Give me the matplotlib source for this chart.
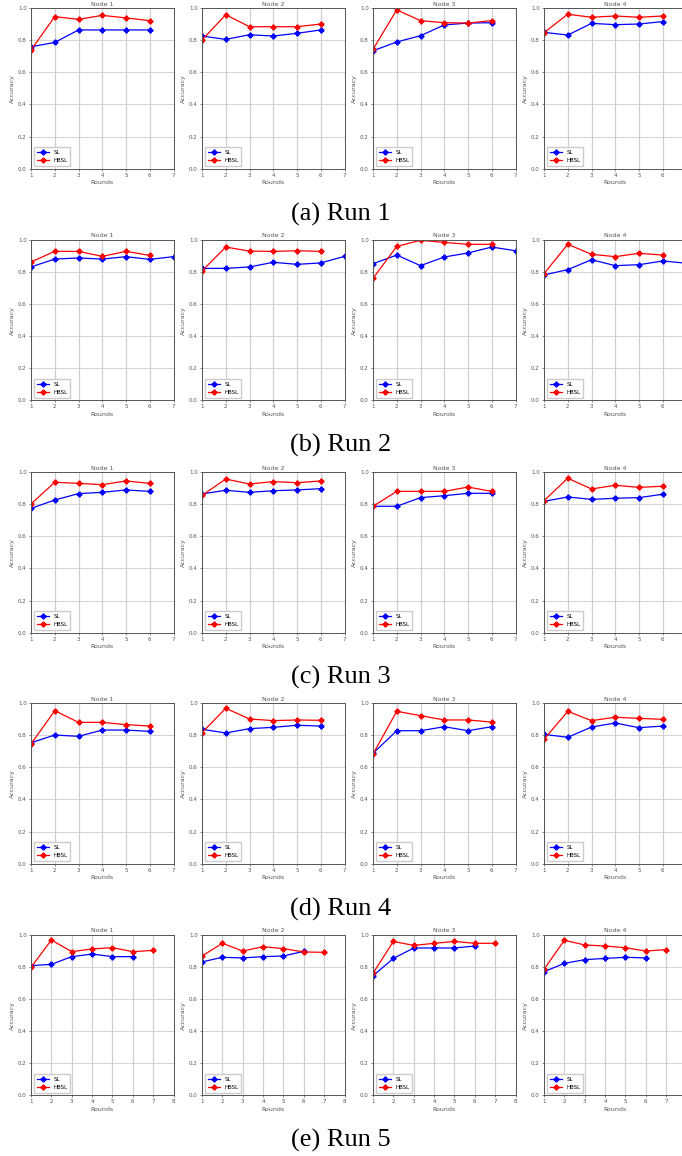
import matplotlib.pyplot as plt
import numpy as np

# accuracy per round, [run][node]
sl = [
    [[0.76, 0.787, 0.865, 0.865, 0.865, 0.865],
     [0.827, 0.806, 0.835, 0.827, 0.844, 0.865],
     [0.735, 0.79, 0.829, 0.896, 0.908, 0.91],
     [0.85, 0.833, 0.906, 0.898, 0.902, 0.917]],
    [[0.832, 0.881, 0.888, 0.881, 0.896, 0.879, 0.896],
     [0.823, 0.823, 0.832, 0.861, 0.848, 0.857, 0.898],
     [0.852, 0.906, 0.84, 0.894, 0.919, 0.956, 0.933],
     [0.782, 0.815, 0.877, 0.84, 0.846, 0.869, 0.855]],
    [[0.775, 0.827, 0.867, 0.875, 0.89, 0.881],
     [0.865, 0.888, 0.875, 0.885, 0.89, 0.898],
     [0.788, 0.788, 0.842, 0.854, 0.869, 0.869],
     [0.819, 0.846, 0.831, 0.838, 0.842, 0.863]],
    [[0.754, 0.802, 0.794, 0.833, 0.833, 0.825],
     [0.838, 0.815, 0.842, 0.85, 0.863, 0.858],
     [0.688, 0.829, 0.829, 0.854, 0.829, 0.854],
     [0.806, 0.788, 0.852, 0.877, 0.848, 0.858]],
    [[0.809, 0.817, 0.865, 0.881, 0.865, 0.865],
     [0.832, 0.861, 0.857, 0.865, 0.869, 0.898],
     [0.746, 0.854, 0.919, 0.919, 0.919, 0.931],
     [0.771, 0.823, 0.846, 0.854, 0.861, 0.857]],
]
hbsl = [
    [[0.74, 0.948, 0.931, 0.956, 0.94, 0.923],
     [0.802, 0.96, 0.885, 0.885, 0.885, 0.902],
     [0.744, 0.99, 0.923, 0.91, 0.908, 0.923],
     [0.848, 0.963, 0.944, 0.952, 0.944, 0.952]],
    [[0.863, 0.929, 0.929, 0.898, 0.929, 0.904],
     [0.807, 0.956, 0.931, 0.929, 0.933, 0.929],
     [0.761, 0.96, 0.998, 0.985, 0.973, 0.973],
     [0.79, 0.973, 0.911, 0.896, 0.917, 0.906]],
    [[0.802, 0.938, 0.931, 0.923, 0.946, 0.931],
     [0.856, 0.958, 0.927, 0.942, 0.935, 0.946],
     [0.788, 0.881, 0.881, 0.881, 0.908, 0.881],
     [0.823, 0.963, 0.896, 0.919, 0.906, 0.913]],
    [[0.746, 0.954, 0.881, 0.881, 0.867, 0.858],
     [0.817, 0.969, 0.902, 0.892, 0.896, 0.894],
     [0.683, 0.95, 0.923, 0.896, 0.896, 0.883],
     [0.775, 0.95, 0.892, 0.913, 0.906, 0.9]],
    [[0.798, 0.969, 0.896, 0.913, 0.921, 0.896, 0.904],
     [0.869, 0.948, 0.9, 0.927, 0.915, 0.894, 0.892],
     [0.761, 0.96, 0.935, 0.948, 0.96, 0.948, 0.948],
     [0.786, 0.967, 0.938, 0.931, 0.921, 0.9, 0.909]],
]
xmax = [7, 7, 7, 7, 8]
captions = ["(a) Run 1", "(b) Run 2", "(c) Run 3", "(d) Run 4", "(e) Run 5"]
nodes = ["Node 1", "Node 2", "Node 3", "Node 4"]

W, H = 682, 1156
fig = plt.figure(figsize=(W / 100, H / 100), dpi=100)

lefts = [31, 202, 373, 544]
aw = 142.5
tops = [8.3, 240, 472.3, 703.3, 935]
ah = 160.3
cap_y = [214, 445, 677, 909, 1140]

gray = "#555555"
for r in range(5):
    for n in range(4):
        l, t = lefts[n], tops[r]
        ax = fig.add_axes([l / W, 1 - (t + ah) / H, aw / W, ah / H])
        s = sl[r][n]
        h = hbsl[r][n]
        ax.plot(np.arange(1, len(s) + 1), s, color="#0000ff", marker="P",
                markersize=3.3, lw=0.9, label="SL")
        ax.plot(np.arange(1, len(h) + 1), h, color="#ff0000", marker="P",
                markersize=3.3, lw=0.9, label="HBSL")
        ax.set_xlim(1, xmax[r])
        ax.set_ylim(0, 1)
        # last panel runs past the page edge, its last tick is cut away
        last = xmax[r] if n < 3 else xmax[r] - 1
        ax.set_xticks(range(1, last + 1))
        ax.set_yticks(np.arange(0, 1.01, 0.2))
        ax.grid(True, axis="y", color="#cccccc", lw=0.6)
        ax.grid(True, axis="x", color="#d0d0d0", lw=0.9)
        ax.set_axisbelow(True)
        ax.tick_params(labelsize=4, colors=gray, length=1.5, width=0.5, pad=1.5)
        for sp in ax.spines.values():
            sp.set_color(gray)
            sp.set_linewidth(0.7)
        ax.set_title(nodes[n], fontsize=4.5, color=gray, pad=2)
        ax.set_xlabel("Rounds", fontsize=4.5, color=gray, labelpad=1.5)
        ax.set_ylabel("Accuracy", fontsize=4.5, color=gray, labelpad=2)
        ax.legend(loc="lower left", fontsize=4, handlelength=2.2,
                  borderpad=0.5, labelspacing=0.5, framealpha=1,
                  edgecolor="#cccccc", fancybox=False)
    fig.text(0.5, 1 - cap_y[r] / H, captions[r], ha="center", va="center",
             fontsize=19, family="Liberation Serif")

fig.savefig("out.png", dpi=100)
